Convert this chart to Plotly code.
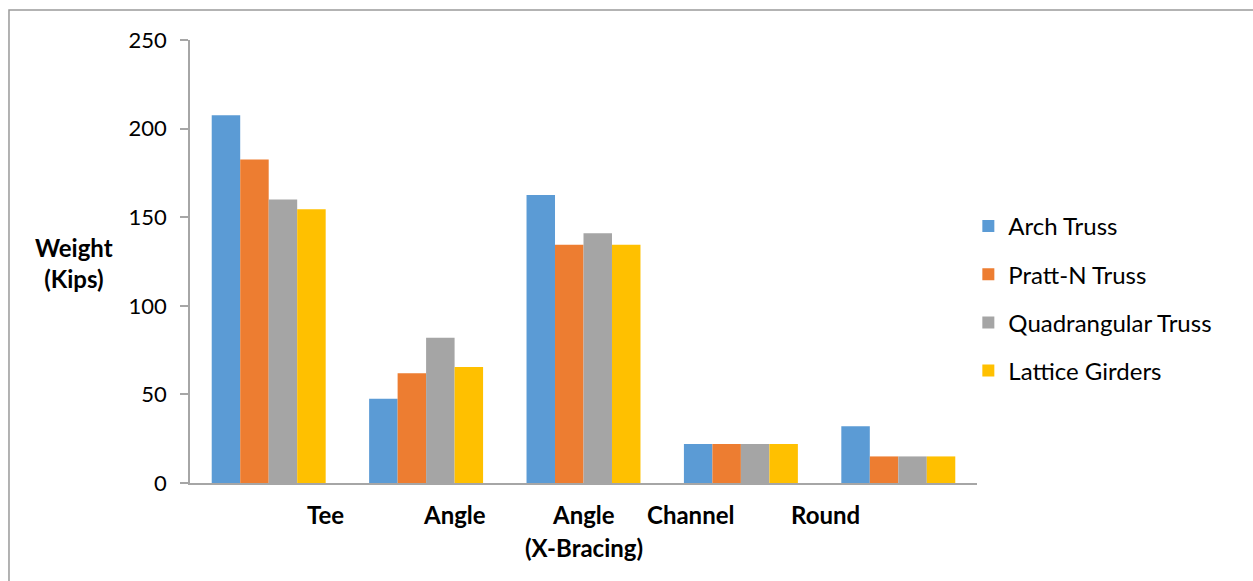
import plotly.graph_objects as go

# Member weight per truss type, grouped by section shape
categories = ["Tee", "Angle", "Angle (X-Bracing)", "Channel", "Round"]
category_labels = ["Tee", "Angle", "Angle\n(X-Bracing)", "Channel", "Round"]
series_names = ["Arch Truss", "Pratt-N Truss", "Quadrangular Truss", "Lattice Girders"]
arch_truss = [207.5, 47.5, 162.5, 22, 32]
pratt_n_truss = [182.5, 62, 134.5, 22, 15]
quadrangular_truss = [160, 82, 141, 22, 15]
lattice_girders = [154.5, 65.5, 134.5, 22, 15]
y_ticks = [0, 50, 100, 150, 200, 250]

series_values = [arch_truss, pratt_n_truss, quadrangular_truss, lattice_girders]
colors = ["#5B9BD5", "#ED7D31", "#A5A5A5", "#FFC000"]

# horizontal offsets (in category units) of the hand-placed category captions
label_offsets = [0.36, 0.18, 0.0, -0.32, -0.46]

FONT = "Lato"
AXIS_GREY = "#A6A6A6"
TEXT_SIZE = 24

fig = go.Figure()
for name, vals, col in zip(series_names, series_values, colors):
    fig.add_trace(go.Bar(
        x=categories, y=vals, name=name, legendgroup=name,
        marker=dict(color=col, line=dict(width=0)),
    ))

annotations = []
for i, (lab, off) in enumerate(zip(category_labels, label_offsets)):
    for j, line in enumerate(lab.split("\n")):
        annotations.append(dict(
            x=i + off, y=0, xref="x", yref="y", text=f"<b>{line}</b>",
            showarrow=False, xanchor="center", yanchor="middle",
            yshift=-31 - 33 * j, font=dict(family=FONT, size=TEXT_SIZE, color="#000000"),
        ))

annotations.append(dict(
    x=-0.148, y=0.497, xref="paper", yref="paper",
    text="<b>Weight</b><br><b>(Kips)</b>", showarrow=False,
    xanchor="center", yanchor="middle", align="center",
    font=dict(family=FONT, size=TEXT_SIZE, color="#000000"),
))

fig.update_layout(
    width=1253, height=581,
    margin=dict(l=190, r=276, t=40, b=98),
    paper_bgcolor="white", plot_bgcolor="white",
    barmode="group", bargap=0.276, bargroupgap=0,
    font=dict(family=FONT, size=TEXT_SIZE, color="#000000"),
    showlegend=True,
    legend=dict(
        x=0.989, y=0.63, xanchor="left", yanchor="top",
        traceorder="grouped", tracegroupgap=14,
        font=dict(family=FONT, size=TEXT_SIZE, color="#000000"),
        itemsizing="constant",
    ),
    annotations=annotations,
    shapes=[dict(
        type="rect", xref="paper", yref="paper",
        x0=-0.23, x1=2, y0=-1, y1=1.0677,
        line=dict(color="#9A9A9A", width=1.5), fillcolor="rgba(0,0,0,0)",
        layer="below",
    )],
)

fig.update_xaxes(
    type="category", showticklabels=False, ticks="",
    showline=True, linecolor=AXIS_GREY, linewidth=1.5,
    showgrid=False, zeroline=False,
)
fig.update_yaxes(
    range=[0, 250], tickvals=y_ticks, ticks="outside", ticklen=8,
    tickcolor=AXIS_GREY, tickwidth=1.5,
    showline=True, linecolor=AXIS_GREY, linewidth=1.5,
    showgrid=False, zeroline=False, ticklabelstandoff=9,
    tickfont=dict(family=FONT, size=22, color="#000000"),
)

fig.write_html("out.html")
